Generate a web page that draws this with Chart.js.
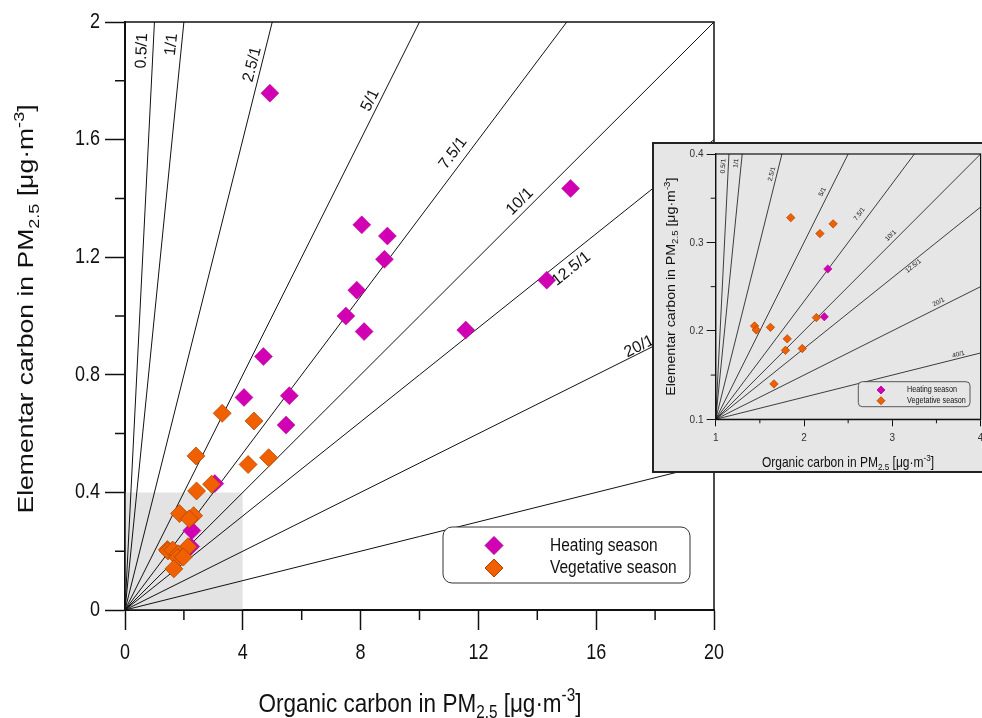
<!DOCTYPE html>
<html>
<head>
<meta charset="utf-8">
<script src="https://cdn.jsdelivr.net/npm/chart.js@4.4.0/dist/chart.umd.min.js"></script>
<style>
  html, body { margin: 0; padding: 0; background: #fff; overflow: hidden; }
  #wrap { position: relative; width: 982px; height: 718px; }
  #main { position: absolute; left: 0; top: 0; }
  #insetBox { position: absolute; left: 652px; top: 142px; width: 340px; height: 331px;
              box-sizing: border-box; border: 2px solid #222; background: #e6e6e6; }
  #inset { position: absolute; left: 0; top: 0; }
</style>
</head>
<body>
<div id="wrap">
  <canvas id="main" width="982" height="718"></canvas>
  <div id="insetBox"><canvas id="inset" width="336" height="327"></canvas></div>
</div>
<script>
// OC/EC ratio lines
const ratios = [0.5, 1, 2.5, 5, 7.5, 10, 12.5, 20, 40];
const ratioLabels = ['0.5/1', '1/1', '2.5/1', '5/1', '7.5/1', '10/1', '12.5/1', '20/1', '40/1'];

// measured samples (OC, EC) in ug/m3
const heatingOC = [4.92, 15.13, 8.04, 8.91, 8.81, 7.87, 7.50, 8.12, 11.57, 14.32, 4.70, 4.04, 5.58, 5.47, 3.05, 2.27, 2.23];
const heatingEC = [1.758, 1.434, 1.310, 1.272, 1.193, 1.088, 1.000, 0.947, 0.952, 1.122, 0.862, 0.723, 0.729, 0.629, 0.430, 0.270, 0.216];
const vegetativeOC = [3.30, 4.38, 2.41, 4.18, 4.88, 2.94, 2.43, 1.85, 2.33, 2.18, 2.14, 1.44, 1.46, 1.62, 1.81, 1.79, 1.98, 1.66];
const vegetativeEC = [0.669, 0.643, 0.524, 0.495, 0.518, 0.428, 0.405, 0.328, 0.321, 0.310, 0.215, 0.2055, 0.201, 0.204, 0.191, 0.178, 0.180, 0.140];
const seriesNames = ['Heating season', 'Vegetative season'];

// zoomed region shown in the inset
const zoomOC = [0, 4];
const zoomEC = [0, 0.4];

// axis ticks
const mainXTicks = [0, 4, 8, 12, 16, 20];
const mainXLabels = ['0', '4', '8', '12', '16', '20'];
const mainXMinor = [2, 6, 10, 14, 18];
const mainYTicks = [0, 0.4, 0.8, 1.2, 1.6, 2];
const mainYLabels = ['0', '0.4', '0.8', '1.2', '1.6', '2'];
const mainYMinor = [0.2, 0.6, 1.0, 1.4, 1.8];
const insetXTicks = [1, 2, 3, 4];
const insetXLabels = ['1', '2', '3', '4'];
const insetXMinor = [1.5, 2.5, 3.5];
const insetYTicks = [0.1, 0.2, 0.3, 0.4];
const insetYLabels = ['0.1', '0.2', '0.3', '0.4'];
const insetYMinor = [0.15, 0.25, 0.35];

const FONT = '"Liberation Sans", Arial, sans-serif';
const HEAT = '#d100b2', HEAT_EDGE = '#b0009a';
const VEG = '#f06000', VEG_EDGE = '#a84300';
const STRETCH = 1.18; // the original figure is a bit taller than wide

function lineEnd(r, x0, y0, xMax, yMax) {
  const xTop = x0 + (yMax - y0) * r;
  return xTop <= xMax ? { x: xTop, y: yMax } : { x: xMax, y: y0 + (xMax - x0) / r };
}

function pts(xs, ys) { return xs.map((v, i) => ({ x: v, y: ys[i] })); }

function drawText(ctx, text, x, y, size, align) {
  ctx.save();
  ctx.translate(x, y);
  ctx.scale(1, STRETCH);
  ctx.font = size + 'px ' + FONT;
  ctx.textAlign = align;
  ctx.textBaseline = 'middle';
  ctx.fillText(text, 0, 0);
  ctx.restore();
}

function drawRich(ctx, parts, x, y, size, rot) {
  const sm = size * 0.68;
  ctx.save();
  ctx.translate(x, y);
  ctx.rotate(rot);
  if (rot) ctx.scale(STRETCH, 1); else ctx.scale(1, STRETCH);
  ctx.textAlign = 'left';
  ctx.textBaseline = 'alphabetic';
  let w = 0;
  const ws = parts.map(p => {
    ctx.font = (p[1] ? sm : size) + 'px ' + FONT;
    const m = ctx.measureText(p[0]).width;
    w += m;
    return m;
  });
  let cx = -w / 2;
  parts.forEach((p, i) => {
    ctx.font = (p[1] ? sm : size) + 'px ' + FONT;
    const dy = p[1] === 'sub' ? size * 0.25 : p[1] === 'sup' ? -size * 0.4 : 0;
    ctx.fillText(p[0], cx, size * 0.36 + dy);
    cx += ws[i];
  });
  ctx.restore();
}

const yTitle = [['Elementar carbon in PM', ''], ['2.5', 'sub'], [' [\u03bcg\u00b7m', ''], ['-3', 'sup'], [']', '']];
const xTitle = [['Organic carbon in PM', ''], ['2.5', 'sub'], [' [\u03bcg\u00b7m', ''], ['-3', 'sup'], [']', '']];

function decor(st) {
  return {
    id: 'decor',
    afterDatasetsDraw(chart) {
      const { ctx, chartArea: a, scales: { x, y } } = chart;
      ctx.save();
      ctx.fillStyle = '#111';
      ctx.font = st.ratioFont + 'px ' + FONT;
      ctx.textAlign = 'center';
      ctx.textBaseline = 'middle';
      const p0x = x.getPixelForValue(st.x0), p0y = y.getPixelForValue(st.y0);
      ratios.forEach((r, i) => {
        const oc = st.labelAt[i];
        const px = x.getPixelForValue(oc), py = y.getPixelForValue(st.y0 + (oc - st.x0) / r);
        const ang = Math.atan2(py - p0y, px - p0x);
        const off = st.labelOffset[i];
        ctx.save();
        ctx.translate(px + Math.sin(ang) * off, py - Math.cos(ang) * off);
        ctx.rotate(ang);
        ctx.fillText(ratioLabels[i], 0, 0);
        ctx.restore();
      });
      ctx.strokeStyle = '#111';
      ctx.lineWidth = st.frameWidth;
      ctx.strokeRect(a.left, a.top, a.right - a.left, a.bottom - a.top);
      ctx.restore();
    },
    afterDraw(chart) {
      const { ctx, chartArea: a, scales: { x, y } } = chart;
      ctx.save();
      ctx.strokeStyle = '#111';
      ctx.lineWidth = st.tickWidth;
      ctx.beginPath();
      st.minorX.forEach(v => {
        const px = x.getPixelForValue(v);
        ctx.moveTo(px, a.bottom); ctx.lineTo(px, a.bottom + st.minorLenX);
      });
      st.minorY.forEach(v => {
        const py = y.getPixelForValue(v);
        ctx.moveTo(a.left - st.minorLenY, py); ctx.lineTo(a.left, py);
      });
      ctx.stroke();

      // tick labels
      ctx.fillStyle = st.tickColor;
      st.xTicks.forEach((v, i) => drawText(ctx, st.xLabels[i], x.getPixelForValue(v), st.xLabelY, st.tickFont, 'center'));
      st.yTicks.forEach((v, i) => drawText(ctx, st.yLabels[i], st.yLabelX, y.getPixelForValue(v), st.tickFont, 'right'));

      // legend
      const L = st.legend;
      ctx.beginPath();
      ctx.roundRect(L.x1, L.y1, L.x2 - L.x1, L.y2 - L.y1, L.r);
      ctx.fillStyle = L.fill;
      ctx.fill();
      ctx.strokeStyle = '#333';
      ctx.lineWidth = L.lw;
      ctx.stroke();
      const cols = [[HEAT, HEAT_EDGE], [VEG, VEG_EDGE]];
      seriesNames.forEach((name, i) => {
        ctx.fillStyle = cols[i][0];
        ctx.strokeStyle = cols[i][1];
        Chart.helpers.drawPoint(ctx, { pointStyle: 'rectRot', radius: L.pr, borderWidth: 0.6, rotation: 0 }, L.mx, L.rows[i]);
        ctx.fillStyle = '#111';
        drawText(ctx, name, L.tx, L.rows[i], L.font, 'left');
      });

      ctx.fillStyle = '#111';
      drawRich(ctx, xTitle, st.xt[0], st.xt[1], st.titleSize, 0);
      drawRich(ctx, yTitle, st.yt[0], st.yt[1], st.titleSize, -Math.PI / 2);
      ctx.restore();
    }
  };
}

function ratioSets(x0, y0, xMax, yMax, lw) {
  return ratios.map(r => ({
    data: [{ x: x0, y: y0 }, lineEnd(r, x0, y0, xMax, yMax)],
    showLine: true, pointRadius: 0, borderColor: '#111', borderWidth: lw, order: 5
  }));
}

function pointSets(pr) {
  return [
    { label: seriesNames[0], data: pts(heatingOC, heatingEC), pointStyle: 'rectRot', pointRadius: pr,
      backgroundColor: HEAT, borderColor: HEAT_EDGE, borderWidth: 0.5, order: 2 },
    { label: seriesNames[1], data: pts(vegetativeOC, vegetativeEC), pointStyle: 'rectRot', pointRadius: pr,
      backgroundColor: VEG, borderColor: VEG_EDGE, borderWidth: 0.7, order: 1 }
  ];
}

function axis(min, max, ticks, o) {
  return {
    type: 'linear', min: min, max: max,
    afterBuildTicks: s => { s.ticks = ticks.map(v => ({ value: v })); },
    afterFit: s => { if (o.w) s.width = o.w; if (o.h) s.height = o.h; },
    grid: { drawOnChartArea: false, tickLength: o.tl, tickColor: '#111', tickWidth: o.tw },
    border: { color: '#111', width: o.bw },
    ticks: { display: false }
  };
}

// main chart
new Chart(document.getElementById('main'), {
  type: 'scatter',
  data: {
    datasets: [
      { data: [{ x: zoomOC[0], y: zoomEC[1] }, { x: zoomOC[1], y: zoomEC[1] }], showLine: true, fill: 'origin',
        backgroundColor: '#e3e3e3', borderColor: 'rgba(0,0,0,0)', borderWidth: 0, pointRadius: 0, order: 10 },
      ...ratioSets(0, 0, 20, 2, 1),
      ...pointSets(9)
    ]
  },
  options: {
    responsive: false, animation: false,
    layout: { padding: { top: 22, right: 268, left: 0, bottom: 0 } },
    plugins: { legend: { display: false }, tooltip: { enabled: false } },
    scales: {
      x: axis(0, 20, mainXTicks, { h: 108, tl: 20, tw: 1.5, bw: 2 }),
      y: axis(0, 2, mainYTicks, { w: 125, tl: 20, tw: 1.5, bw: 2 })
    }
  },
  plugins: [decor({
    x0: 0, y0: 0, ratioFont: 16, frameWidth: 1.5, tickWidth: 1.5,
    labelAt: [0.95, 1.92, 4.62, 8.6, 11.47, 13.65, 14.9, 17.55, 19],
    labelOffset: [11, 10, 9, 9, 12, 10, -12, 6, 8],
    minorX: mainXMinor, minorY: mainYMinor, minorLenX: 10, minorLenY: 10,
    xTicks: mainXTicks, xLabels: mainXLabels, yTicks: mainYTicks, yLabels: mainYLabels,
    xLabelY: 653, yLabelX: 100, tickFont: 18, tickColor: '#111',
    legend: { x1: 443, y1: 527, x2: 690, y2: 583, r: 9, fill: '#fff', lw: 1, pr: 9, mx: 494, rows: [545.5, 568], tx: 550, font: 15.5 },
    xt: [420, 702], yt: [25, 309], titleSize: 22.5
  })]
});

// inset chart
new Chart(document.getElementById('inset'), {
  type: 'scatter',
  data: {
    datasets: [
      ...ratioSets(1, 0.1, 4, 0.4, 0.8),
      ...pointSets(4.2)
    ]
  },
  options: {
    responsive: false, animation: false,
    layout: { padding: { top: 10, right: 9.4, left: 0, bottom: 0 } },
    plugins: { legend: { display: false }, tooltip: { enabled: false } },
    scales: {
      x: axis(1, 4, insetXTicks, { h: 51.7, tl: 7, tw: 1, bw: 1.2 }),
      y: axis(0.1, 0.4, insetYTicks, { w: 61.7, tl: 9, tw: 1, bw: 1.2 })
    }
  },
  plugins: [decor({
    x0: 1, y0: 0.1, ratioFont: 6.5, frameWidth: 1.2, tickWidth: 1,
    labelAt: [1.143, 1.289, 1.69, 2.27, 2.70, 3.03, 3.21, 3.55, 3.76],
    labelOffset: [5, 5, 5, 6, 8, 6, -4, 5, 4],
    minorX: insetXMinor, minorY: insetYMinor, minorLenX: 4, minorLenY: 5,
    xTicks: insetXTicks, xLabels: insetXLabels, yTicks: insetYTicks, yLabels: insetYLabels,
    xLabelY: 294, yLabelX: 49.5, tickFont: 10, tickColor: '#333',
    legend: { x1: 204.3, y1: 237.7, x2: 316, y2: 262.7, r: 4, fill: '#e6e6e6', lw: 0.8, pr: 4, mx: 227, rows: [246, 256.7], tx: 253, font: 7.2 },
    xt: [194, 317.5], yt: [16.7, 142.7], titleSize: 12
  })]
});
</script>
</body>
</html>
